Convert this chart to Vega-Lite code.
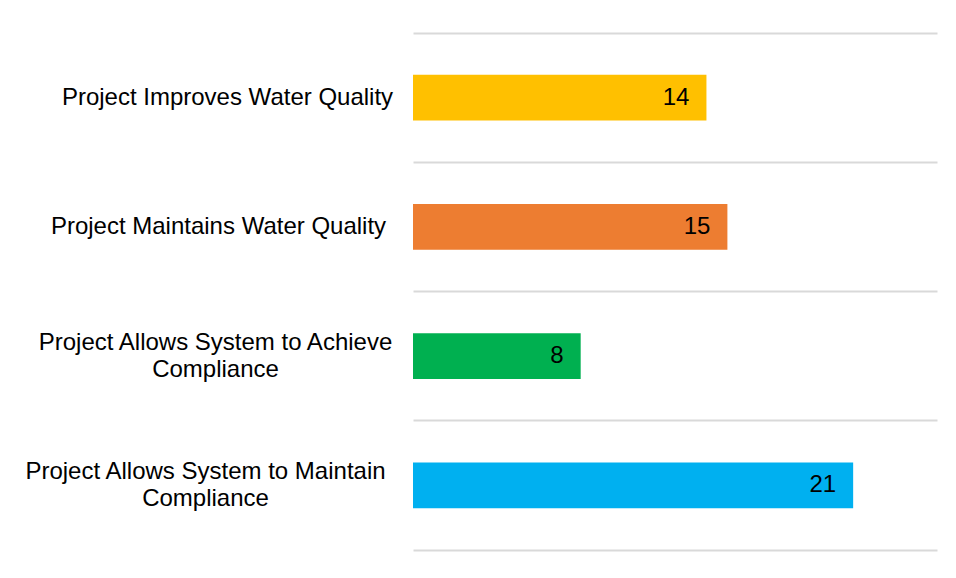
{
  "$schema": "https://vega.github.io/schema/vega-lite/v6.json",
  "width": 524,
  "height": 517,
  "autosize": {"type": "none"},
  "padding": {"left": 413, "top": 33, "right": 19, "bottom": 28},
  "background": "white",
  "config": {"view": {"stroke": null}, "font": "Liberation Sans"},
  "data": {
    "values": [
      {"category": "Project Improves Water Quality", "count": 14},
      {"category": "Project Maintains Water Quality", "count": 15},
      {"category": "Project Allows System to Achieve|Compliance", "count": 8},
      {"category": "Project Allows System to Maintain|Compliance", "count": 21}
    ]
  },
  "encoding": {
    "y": {
      "field": "category",
      "type": "nominal",
      "sort": null,
      "scale": {"paddingInner": 0.646, "paddingOuter": 0.323},
      "axis": {
        "title": null,
        "domain": false,
        "ticks": false,
        "tickSize": 0,
        "bandPosition": -0.912,
        "grid": true,
        "gridColor": "#D9D9D9",
        "gridWidth": 2,
        "labelFont": "Liberation Sans",
        "labelFontSize": 24,
        "labelColor": "#000000",
        "labelAlign": "center",
        "labelBaseline": "middle",
        "labelLineHeight": 27,
        "labelLimit": 0,
        "labelOffset": {"expr": "indexof(datum.value, '|') >= 0 ? -13.5 : 0"},
        "labelPadding": {"expr": "datum.value == 'Project Improves Water Quality' ? 186 : datum.value == 'Project Maintains Water Quality' ? 195 : datum.value == 'Project Allows System to Achieve|Compliance' ? 198 : 208"},
        "labelExpr": "split(datum.label, '|')"
      }
    }
  },
  "layer": [
    {
      "mark": {"type": "bar"},
      "encoding": {
        "x": {
          "field": "count",
          "type": "quantitative",
          "scale": {"domain": [0, 25], "nice": false},
          "axis": {"title": null, "labels": false, "ticks": false, "grid": false, "domain": true, "domainColor": "#D9D9D9", "domainWidth": 2}
        },
        "color": {
          "field": "category",
          "type": "nominal",
          "legend": null,
          "scale": {
            "domain": ["Project Improves Water Quality", "Project Maintains Water Quality", "Project Allows System to Achieve|Compliance", "Project Allows System to Maintain|Compliance"],
            "range": ["#FFC000", "#ED7D31", "#00B050", "#00B0F0"]
          }
        }
      }
    },
    {
      "mark": {"type": "text", "align": "right", "baseline": "middle", "dx": -17, "fontSize": 24, "font": "Liberation Sans", "color": "#000000"},
      "encoding": {
        "x": {"field": "count", "type": "quantitative"},
        "text": {"field": "count", "type": "quantitative"}
      }
    }
  ]
}
